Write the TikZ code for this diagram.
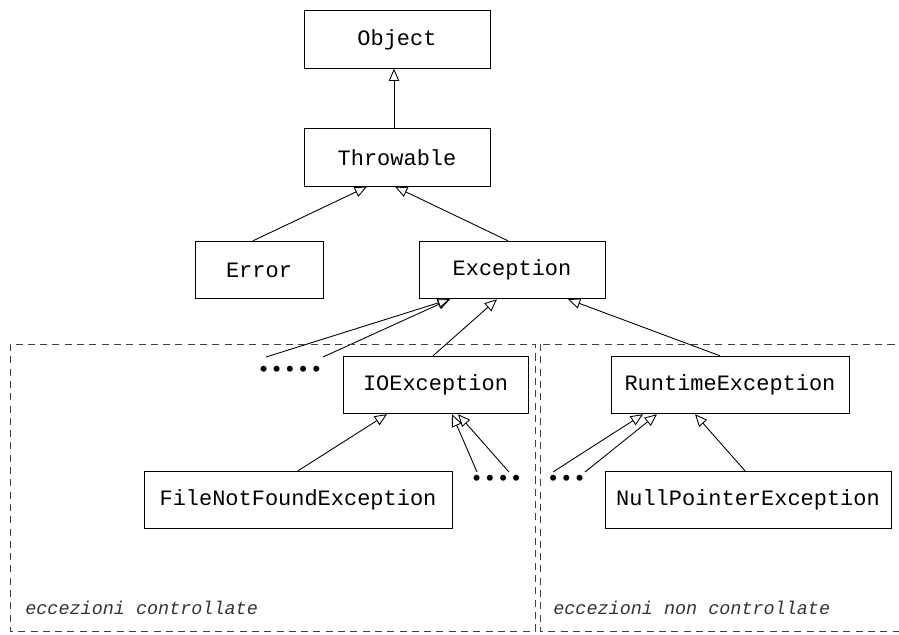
\documentclass[tikz,border=0pt]{standalone}
\usepackage{fontspec}
\setmonofont{Liberation Mono}
\usetikzlibrary{arrows.meta, positioning}

\tikzset{
  cls/.style={draw, line width=0.5pt, minimum height=1.15cm, inner sep=0pt,
    font=\fontsize{12.5}{15}\selectfont\ttfamily},
  isa/.style={-{Triangle[open, length=7pt, width=6pt]}, line width=0.5pt},
  more/.style={inner sep=0pt, font=\fontsize{12.5}{15}\selectfont\ttfamily},
  region/.style={dash pattern=on 4pt off 3pt, draw=black!75, line width=0.5pt},
  regionlabel/.style={anchor=west, inner sep=0pt, text=black!80,
    font=\fontsize{10.5}{12}\selectfont\ttfamily\itshape}
}

\begin{document}
\begin{tikzpicture}
    \useasboundingbox (0,0) rectangle (17.98,-12.7);

    % classes
    \node[cls, minimum width=3.72cm] (object) at (7.94,-0.79) {Object};
    \node[cls, minimum width=3.72cm] (throwable) at (7.94,-3.15) {Throwable};
    \node[cls, minimum width=2.56cm] (error) at (5.18,-5.40) {Error};
    \node[cls, minimum width=3.72cm] (exception) at (10.24,-5.40) {Exception};
    \node[cls, minimum width=3.70cm] (ioexc) at (8.71,-7.70) {IOException};
    \node[cls, minimum width=4.76cm] (rtexc) at (14.60,-7.70) {RuntimeException};
    \node[cls, minimum width=6.16cm] (fnfexc) at (5.96,-10.00) {FileNotFoundException};
    \node[cls, minimum width=5.72cm] (npexc) at (14.96,-10.00) {NullPointerException};

    % other subclasses
    \node[more] (moreL) at (5.80,-7.42) {•••••};
    \node[more] (moreIO) at (9.93,-9.60) {••••};
    \node[more] (moreRT) at (11.33,-9.60) {•••};

    % inheritance
    \draw[isa] ([xshift=-0.06cm]throwable.north) -- ([xshift=-0.06cm]object.south);
    \draw[isa] ([xshift=-0.12cm]error.north) -- ([xshift=-0.60cm]throwable.south);
    \draw[isa] ([xshift=-0.08cm]exception.north) -- ([xshift=-0.04cm]throwable.south);
    \draw[isa] ([shift={(-0.48,0.28)}]moreL.center) -- ([xshift=-1.24cm]exception.south);
    \draw[isa] ([shift={(0.66,0.28)}]moreL.center) -- ([xshift=-1.24cm]exception.south);
    \draw[isa] ([xshift=-0.05cm]ioexc.north) -- ([xshift=-0.30cm]exception.south);
    \draw[isa] ([xshift=-0.20cm]rtexc.north) -- ([xshift=1.12cm]exception.south);
    \draw[isa] (fnfexc.north) -- ([xshift=-0.97cm]ioexc.south);
    \draw[isa] ([shift={(-0.39,0.16)}]moreIO.center) -- ([xshift=0.33cm]ioexc.south);
    \draw[isa] ([shift={(0.25,0.16)}]moreIO.center) -- ([xshift=0.45cm]ioexc.south);
    \draw[isa] ([shift={(-0.27,0.16)}]moreRT.center) -- ([xshift=-1.74cm]rtexc.south);
    \draw[isa] ([shift={(0.37,0.16)}]moreRT.center) -- ([xshift=-1.46cm]rtexc.south);
    \draw[isa] ([xshift=-0.06cm]npexc.north) -- ([xshift=-0.70cm]rtexc.south);

    % checked / unchecked
    \draw[region] (0.20,-6.88) rectangle (10.70,-12.62);
    \draw[region] (10.80,-6.88) rectangle (18.20,-12.62);
    \node[regionlabel] (lblChecked) at (0.50,-12.16) {eccezioni controllate};
    \node[regionlabel] (lblUnchecked) at (11.06,-12.16) {eccezioni non controllate};
\end{tikzpicture}
\end{document}
